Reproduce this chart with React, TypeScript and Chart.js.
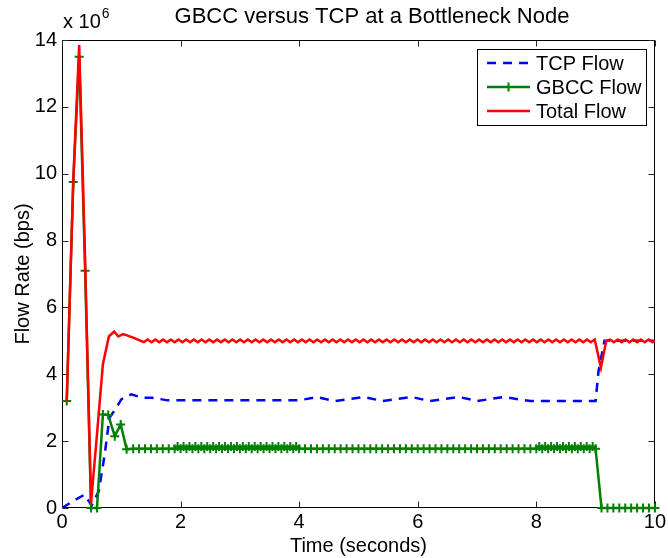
import React, { useEffect, useRef } from "react";
import { Chart, registerables } from "chart.js";

Chart.register(...registerables);

// ---------------- data (rates in units of 10^6 bps) ----------------
const xTickValues = [0, 2, 4, 6, 8, 10];
const yTickValues = [0, 2, 4, 6, 8, 10, 12, 14];

const tcpTime = [
  0, 0.2, 0.38, 0.5, 0.62, 0.72, 0.8, 0.9, 1.0, 1.17, 1.35, 1.5, 1.62, 1.78,
  4.0, 4.3, 4.6, 5.1, 5.4, 5.9, 6.2, 6.7, 7.0, 7.45, 7.9, 9.0, 9.05, 9.15, 10.0,
];
const tcpRate = [
  0, 0.22, 0.4, 0.08, 0.5, 1.6, 2.7, 2.95, 3.25, 3.4, 3.3, 3.3, 3.27, 3.22,
  3.22, 3.32, 3.2, 3.32, 3.2, 3.32, 3.2, 3.32, 3.2, 3.32, 3.2, 3.2, 4.1, 5.0, 5.0,
];

const gbccTime = [
  0.08, 0.19, 0.29, 0.39, 0.49, 0.59, 0.69, 0.78, 0.89, 0.99, 1.09,
  1.2, 1.3, 1.4, 1.5, 1.6, 1.7, 1.8,
  1.9, 1.95, 2.0, 2.05, 2.1, 2.15, 2.2, 2.25, 2.3, 2.35,
  2.4, 2.45, 2.5, 2.55, 2.6, 2.65, 2.7, 2.75, 2.8, 2.85,
  2.9, 2.95, 3.0, 3.05, 3.1, 3.15, 3.2, 3.25, 3.3, 3.35,
  3.4, 3.45, 3.5, 3.55, 3.6, 3.65, 3.7, 3.75, 3.8, 3.85,
  3.9, 3.95, 4.0,
  4.1, 4.2, 4.3, 4.4, 4.5, 4.6, 4.7, 4.8, 4.9, 5.0,
  5.1, 5.2, 5.3, 5.4, 5.5, 5.6, 5.7, 5.8, 5.9, 6.0,
  6.1, 6.2, 6.3, 6.4, 6.5, 6.6, 6.7, 6.8, 6.9, 7.0,
  7.1, 7.2, 7.3, 7.4, 7.5, 7.6, 7.7, 7.8, 7.9,
  8.0, 8.05, 8.1, 8.15, 8.2, 8.25, 8.3, 8.35, 8.4, 8.45,
  8.5, 8.55, 8.6, 8.65, 8.7, 8.75, 8.8, 8.85, 8.9, 8.95, 9.0,
  9.1, 9.2, 9.3, 9.4, 9.5, 9.6, 9.7, 9.8, 9.9, 10.0,
];
const gbccRate = [
  3.2, 9.75, 13.5, 7.1, 0, 0, 2.8, 2.78, 2.15, 2.5, 1.76,
  1.77, 1.77, 1.77, 1.77, 1.77, 1.77, 1.77,
  1.77, 1.84, 1.77, 1.84, 1.77, 1.84, 1.77, 1.84, 1.77, 1.84,
  1.77, 1.84, 1.77, 1.84, 1.77, 1.84, 1.77, 1.84, 1.77, 1.84,
  1.77, 1.84, 1.77, 1.84, 1.77, 1.84, 1.77, 1.84, 1.77, 1.84,
  1.77, 1.84, 1.77, 1.84, 1.77, 1.84, 1.77, 1.84, 1.77, 1.84,
  1.77, 1.84, 1.77,
  1.77, 1.77, 1.77, 1.77, 1.77, 1.77, 1.77, 1.77, 1.77, 1.77,
  1.77, 1.77, 1.77, 1.77, 1.77, 1.77, 1.77, 1.77, 1.77, 1.77,
  1.77, 1.77, 1.77, 1.77, 1.77, 1.77, 1.77, 1.77, 1.77, 1.77,
  1.77, 1.77, 1.77, 1.77, 1.77, 1.77, 1.77, 1.77, 1.77,
  1.77, 1.84, 1.77, 1.84, 1.77, 1.84, 1.77, 1.84, 1.77, 1.84,
  1.77, 1.84, 1.77, 1.84, 1.77, 1.84, 1.77, 1.84, 1.77, 1.84, 1.77,
  0, 0, 0, 0, 0, 0, 0, 0, 0, 0,
];

const totalTime = [
  0.08, 0.19, 0.29, 0.39, 0.49, 0.59, 0.69, 0.79, 0.88, 0.95, 1.03, 1.12, 1.22, 1.3,
  1.38, 1.445, 1.51, 1.575, 1.64, 1.705, 1.77, 1.835, 1.9, 1.965,
  2.03, 2.095, 2.16, 2.225, 2.29, 2.355, 2.42, 2.485, 2.55, 2.615,
  2.68, 2.745, 2.81, 2.875, 2.94, 3.005, 3.07, 3.135, 3.2, 3.265,
  3.33, 3.395, 3.46, 3.525, 3.59, 3.655, 3.72, 3.785, 3.85, 3.915,
  3.98, 4.045, 4.11, 4.175, 4.24, 4.305, 4.37, 4.435, 4.5, 4.565,
  4.63, 4.695, 4.76, 4.825, 4.89, 4.955, 5.02, 5.085, 5.15, 5.215,
  5.28, 5.345, 5.41, 5.475, 5.54, 5.605, 5.67, 5.735, 5.8, 5.865,
  5.93, 5.995, 6.06, 6.125, 6.19, 6.255, 6.32, 6.385, 6.45, 6.515,
  6.58, 6.645, 6.71, 6.775, 6.84, 6.905, 6.97, 7.035, 7.1, 7.165,
  7.23, 7.295, 7.36, 7.425, 7.49, 7.555, 7.62, 7.685, 7.75, 7.815,
  7.88, 7.945, 8.01, 8.075, 8.14, 8.205, 8.27, 8.335, 8.4, 8.465,
  8.53, 8.595, 8.66, 8.725, 8.79, 8.855, 8.92, 8.985,
  9.09, 9.18, 9.245, 9.31, 9.375, 9.44, 9.505, 9.57, 9.635, 9.7,
  9.765, 9.83, 9.895, 9.96, 10.0,
];
const totalRate = [
  3.2, 9.8, 13.85, 7.4, 0.15, 2.2, 4.3, 5.13, 5.28, 5.13, 5.2, 5.15, 5.08, 5.02,
  4.96, 5.04, 4.96, 5.04, 4.96, 5.04, 4.96, 5.04, 4.96, 5.04,
  4.96, 5.04, 4.96, 5.04, 4.96, 5.04, 4.96, 5.04, 4.96, 5.04,
  4.96, 5.04, 4.96, 5.04, 4.96, 5.04, 4.96, 5.04, 4.96, 5.04,
  4.96, 5.04, 4.96, 5.04, 4.96, 5.04, 4.96, 5.04, 4.96, 5.04,
  4.96, 5.04, 4.96, 5.04, 4.96, 5.04, 4.96, 5.04, 4.96, 5.04,
  4.96, 5.04, 4.96, 5.04, 4.96, 5.04, 4.96, 5.04, 4.96, 5.04,
  4.96, 5.04, 4.96, 5.04, 4.96, 5.04, 4.96, 5.04, 4.96, 5.04,
  4.96, 5.04, 4.96, 5.04, 4.96, 5.04, 4.96, 5.04, 4.96, 5.04,
  4.96, 5.04, 4.96, 5.04, 4.96, 5.04, 4.96, 5.04, 4.96, 5.04,
  4.96, 5.04, 4.96, 5.04, 4.96, 5.04, 4.96, 5.04, 4.96, 5.04,
  4.96, 5.04, 4.96, 5.04, 4.96, 5.04, 4.96, 5.04, 4.96, 5.04,
  4.96, 5.04, 4.96, 5.04, 4.96, 5.04, 4.96, 5.04,
  4.2, 5.0, 5.04, 4.96, 5.04, 4.96, 5.04, 4.96, 5.04, 4.96,
  5.04, 4.96, 5.04, 4.96, 5.0,
];

const seriesNames = ["TCP Flow", "GBCC Flow", "Total Flow"];
const seriesColors = ["#0000ff", "#008000", "#ff0000"];
const titleText = "GBCC versus TCP at a Bottleneck Node";
const xTitle = "Time (seconds)";
const yTitle = "Flow Rate (bps)";

const FONT = "'Liberation Sans', Arial, Helvetica, sans-serif";

const toPoints = (xs: number[], ys: number[]) => xs.map((x, i) => ({ x, y: ys[i] }));

const decorPlugin = {
  id: "decor",
  beforeDatasetsDraw(chart: any) {
    const { ctx, chartArea: a, scales } = chart;
    ctx.save();
    ctx.strokeStyle = "#000";
    ctx.lineWidth = 1;
    const L = Math.round(a.left) + 0.5;
    const R = Math.round(a.right) - 0.5;
    const T = Math.round(a.top) + 0.5;
    const B = Math.round(a.bottom) - 0.5;
    ctx.strokeRect(L, T, R - L, B - T);
    ctx.strokeStyle = "#262626";
    const tl = 6;
    ctx.beginPath();
    xTickValues.forEach((v) => {
      const p = Math.round(scales.x.getPixelForValue(v)) + 0.5;
      ctx.moveTo(p, B);
      ctx.lineTo(p, B - tl);
      ctx.moveTo(p, T);
      ctx.lineTo(p, T + tl);
    });
    yTickValues.forEach((v) => {
      const p = Math.round(scales.y.getPixelForValue(v)) + 0.5;
      ctx.moveTo(L, p);
      ctx.lineTo(L + tl, p);
      ctx.moveTo(R, p);
      ctx.lineTo(R - tl, p);
    });
    ctx.stroke();
    ctx.restore();
  },
  afterDraw(chart: any) {
    const { ctx, chartArea: a } = chart;
    ctx.save();
    // title
    ctx.fillStyle = "#000";
    ctx.font = `22px ${FONT}`;
    ctx.textAlign = "center";
    ctx.textBaseline = "middle";
    ctx.fillText(titleText, 372, 17);
    // exponent
    ctx.textAlign = "left";
    ctx.textBaseline = "alphabetic";
    ctx.font = `20px ${FONT}`;
    const base = "x 10";
    ctx.fillText(base, a.left + 1, 28);
    const w = ctx.measureText(base).width;
    ctx.font = `14px ${FONT}`;
    ctx.fillText("6", a.left + 2 + w, 18);

    // legend
    const bx = 477, by = 49, bw = 169, bh = 76;
    ctx.fillStyle = "#fff";
    ctx.fillRect(bx, by, bw, bh);
    ctx.strokeStyle = "#000";
    ctx.lineWidth = 1;
    ctx.strokeRect(bx + 0.5, by + 0.5, bw, bh);
    const rows = [63, 87, 111];
    const sx0 = 487, sx1 = 530;
    ctx.font = `20px ${FONT}`;
    ctx.textBaseline = "middle";
    ctx.textAlign = "left";
    rows.forEach((ry, i) => {
      ctx.strokeStyle = seriesColors[i];
      ctx.lineWidth = 2.5;
      ctx.setLineDash(i === 0 ? [9, 7] : []);
      ctx.beginPath();
      ctx.moveTo(sx0, ry);
      ctx.lineTo(sx1, ry);
      ctx.stroke();
      ctx.setLineDash([]);
      if (i === 1) {
        const cx = (sx0 + sx1) / 2;
        ctx.lineWidth = 2;
        ctx.beginPath();
        ctx.moveTo(cx - 4.5, ry);
        ctx.lineTo(cx + 4.5, ry);
        ctx.moveTo(cx, ry - 4.5);
        ctx.lineTo(cx, ry + 4.5);
        ctx.stroke();
      }
      ctx.fillStyle = "#000";
      ctx.fillText(seriesNames[i], 536, ry + 1);
    });
    ctx.restore();
  },
};

export default function App() {
  const ref = useRef<HTMLCanvasElement | null>(null);

  useEffect(() => {
    if (!ref.current) return;
    const chart = new Chart(ref.current, {
      type: "line",
      data: {
        datasets: [
          {
            label: seriesNames[0],
            data: toPoints(tcpTime, tcpRate),
            borderColor: seriesColors[0],
            borderWidth: 2.5,
            borderDash: [9, 7],
            pointRadius: 0,
            tension: 0,
            order: 3,
          },
          {
            label: seriesNames[1],
            data: toPoints(gbccTime, gbccRate),
            borderColor: seriesColors[1],
            borderWidth: 2.5,
            pointStyle: "cross",
            pointRadius: 4.5,
            pointBorderWidth: 2,
            pointBorderColor: seriesColors[1],
            pointBackgroundColor: seriesColors[1],
            tension: 0,
            clip: false,
            order: 2,
          },
          {
            label: seriesNames[2],
            data: toPoints(totalTime, totalRate),
            borderColor: seriesColors[2],
            borderWidth: 2.5,
            pointRadius: 0,
            tension: 0,
            order: 1,
          },
        ],
      },
      options: {
        animation: false,
        responsive: false,
        devicePixelRatio: 1,
        layout: { padding: { top: 40, right: 11, left: 0, bottom: 0 } },
        plugins: { legend: { display: false }, tooltip: { enabled: false } },
        scales: {
          x: {
            type: "linear",
            min: 0,
            max: 10,
            grid: { display: false, drawTicks: false, tickLength: 0 },
            border: { display: false },
            ticks: {
              stepSize: 2,
              maxRotation: 0,
              padding: 2,
              color: "#000",
              font: { family: FONT, size: 20 },
            },
            title: {
              display: true,
              text: xTitle,
              color: "#000",
              font: { family: FONT, size: 20 },
              padding: { top: 0, bottom: 0 },
            },
            afterFit: (s: any) => {
              s.height = 50;
            },
          },
          y: {
            type: "linear",
            min: 0,
            max: 14,
            grid: { display: false, drawTicks: false, tickLength: 0 },
            border: { display: false },
            ticks: {
              stepSize: 2,
              padding: 5,
              color: "#000",
              font: { family: FONT, size: 20 },
            },
            title: {
              display: true,
              text: yTitle,
              color: "#000",
              font: { family: FONT, size: 20 },
              padding: { top: 11, bottom: 0 },
            },
            afterFit: (s: any) => {
              s.width = 62;
            },
          },
        },
      },
      plugins: [decorPlugin],
    } as any);
    return () => chart.destroy();
  }, []);

  return (
    <div style={{ position: "fixed", left: 0, top: 0, width: 668, height: 558, background: "#fff" }}>
      <canvas ref={ref} width={668} height={558} style={{ display: "block" }} />
    </div>
  );
}
